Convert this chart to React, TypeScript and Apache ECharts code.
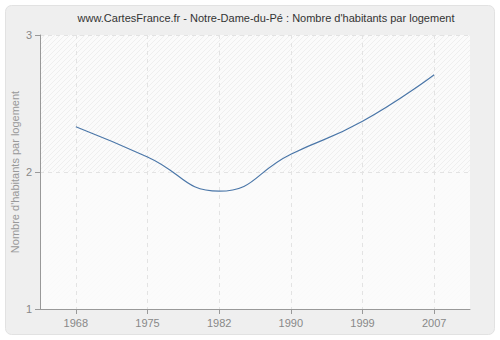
import React, { useEffect, useRef } from "react";
import * as echarts from "echarts";

const titleText = "www.CartesFrance.fr - Notre-Dame-du-Pé : Nombre d'habitants par logement";
const yAxisName = "Nombre d'habitants par logement";
const years = ["1968", "1975", "1982", "1990", "1999", "2007"];
const values = [2.33, 2.11, 1.86, 2.13, 2.37, 2.71];
const yTicks = [1, 2, 3];

function makePattern(): HTMLCanvasElement {
  const c = document.createElement("canvas");
  c.width = 5;
  c.height = 5;
  const ctx = c.getContext("2d")!;
  ctx.fillStyle = "#fbfbfb";
  ctx.fillRect(0, 0, 5, 5);
  ctx.strokeStyle = "#efefef";
  ctx.lineWidth = 1;
  ctx.beginPath();
  ctx.moveTo(-1, 6);
  ctx.lineTo(6, -1);
  ctx.stroke();
  return c;
}

export default function App() {
  const ref = useRef<HTMLDivElement>(null);
  useEffect(() => {
    if (!ref.current) return;
    const chart = echarts.init(ref.current, undefined, { renderer: "svg" });
    const pattern = makePattern();
    chart.setOption({
      animation: false,
      backgroundColor: "#ffffff",
      graphic: [
        {
          type: "rect",
          shape: { x: 5.5, y: 5.5, width: 489, height: 329, r: 6 },
          style: { fill: "#efefef", stroke: "#e2e2e2", lineWidth: 1 },
          z: -10,
          silent: true,
        },
        {
          type: "text",
          x: 266,
          y: 18,
          style: {
            text: titleText,
            fill: "#333333",
            font: "11px 'Liberation Sans', sans-serif",
            textAlign: "center",
            textVerticalAlign: "middle",
          },
        },
      ],
      grid: {
        left: 40,
        top: 35,
        width: 430,
        height: 274,
        show: true,
        containLabel: false,
        outerBoundsMode: "none",
        backgroundColor: { image: pattern, repeat: "repeat" },
        borderWidth: 0,
      },
      xAxis: {
        type: "category",
        data: years,
        boundaryGap: true,
        axisLine: { show: true, lineStyle: { color: "#999999" } },
        axisTick: { show: true, alignWithLabel: true, length: 5, lineStyle: { color: "#999999" } },
        axisLabel: { color: "#888888", fontSize: 11, fontFamily: "'Liberation Sans', sans-serif", margin: 8 },
        splitLine: { show: true, alignWithLabel: true, lineStyle: { color: "#e3e3e3", type: [4, 4] } },
      },
      yAxis: {
        type: "value",
        min: yTicks[0],
        max: yTicks[yTicks.length - 1],
        interval: 1,
        name: yAxisName,
        nameLocation: "middle",
        nameGap: 20,
        nameMoveOverlap: false,
        nameTextStyle: { color: "#999999", fontSize: 11, fontFamily: "'Liberation Sans', sans-serif" },
        axisLine: { show: true, lineStyle: { color: "#999999" } },
        axisTick: { show: true, length: 5, lineStyle: { color: "#999999" } },
        axisLabel: { color: "#888888", fontSize: 11, fontFamily: "'Liberation Sans', sans-serif", margin: 8 },
        splitLine: { show: true, lineStyle: { color: "#e3e3e3", type: [4, 4] } },
        splitArea: { show: true, areaStyle: { color: ["rgba(250,250,250,0.85)", "rgba(0,0,0,0)"] } },
      },
      series: [
        {
          type: "line",
          data: values,
          smooth: 0.5,
          symbol: "none",
          lineStyle: { color: "#4a76a8", width: 1.2 },
        },
      ],
    });
    return () => chart.dispose();
  }, []);
  return <div ref={ref} style={{ position: "fixed", left: 0, top: 0, width: 500, height: 340 }} />;
}
